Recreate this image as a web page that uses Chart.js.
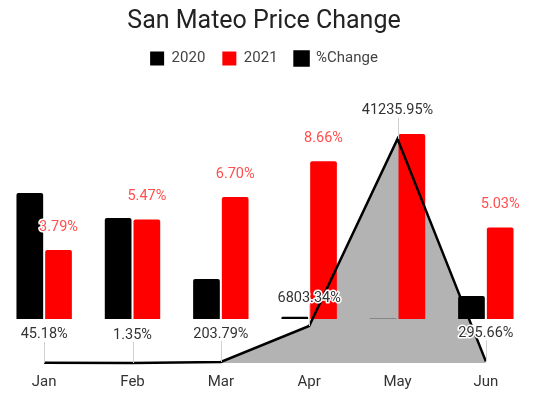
<!DOCTYPE html>
<html>
<head>
<meta charset="utf-8">
<script src="https://cdn.jsdelivr.net/npm/chart.js@4/dist/chart.umd.min.js"></script>
<style>
    body { margin: 0; background: #fff; }
    #wrap { width: 534px; height: 398px; }
</style>
</head>
<body>
<div id="wrap"><canvas id="chartPrice" width="534" height="398"></canvas></div>
<script>
let months = ["Jan", "Feb", "Mar", "Apr", "May", "Jun"];
let price2020 = [6.914, 5.545, 2.205, 0.125, 0.025, 1.271];
let price2021 = [3.79, 5.47, 6.70, 8.66, 10.16, 5.03];
let pctChange = [45.18, 1.35, 203.79, 6803.34, 41235.95, 295.66];
let hideLabel2021 = ["May"];

let labelFont = "14.5px Roboto";

// draws value labels (no datalabels plugin offline)
let valueLabels = {
    id: "valueLabels",
    afterDatasetsDraw: function (chart) {
        let ctx = chart.ctx;
        ctx.save();
        ctx.font = labelFont;
        ctx.textAlign = "center";
        ctx.textBaseline = "middle";
        ctx.lineJoin = "round";

        let metaLine = chart.getDatasetMeta(2);
        metaLine.data.forEach(function (pt, i) {
            ctx.strokeStyle = "#d0d0d0";
            ctx.lineWidth = 1;
            ctx.beginPath();
            ctx.moveTo(Math.round(pt.x) + 0.5, pt.y - 21);
            ctx.lineTo(Math.round(pt.x) + 0.5, pt.y);
            ctx.stroke();

            let txt = pctChange[i].toFixed(2) + "%";
            ctx.strokeStyle = "#fff";
            ctx.lineWidth = 3;
            ctx.strokeText(txt, pt.x, pt.y - 28);
            ctx.fillStyle = "#333";
            ctx.fillText(txt, pt.x, pt.y - 28);
        });

        let metaRed = chart.getDatasetMeta(1);
        metaRed.data.forEach(function (bar, i) {
            if (hideLabel2021.indexOf(months[i]) >= 0) return;
            let txt = price2021[i].toFixed(2) + "%";
            ctx.strokeStyle = "#fff";
            ctx.lineWidth = 3;
            ctx.strokeText(txt, bar.x, bar.y - 23);
            ctx.fillStyle = "#ff4f4f";
            ctx.fillText(txt, bar.x, bar.y - 23);
        });
        ctx.restore();
    }
};

let ctx = document.getElementById("chartPrice").getContext("2d");
new Chart(ctx, {
    type: "bar",
    data: {
        labels: months,
        datasets: [{
            label: "2020",
            data: price2020,
            backgroundColor: "#000",
            borderRadius: 2,
            borderSkipped: "bottom",
            yAxisID: "yBar",
            order: 1
        }, {
            label: "2021",
            data: price2021,
            backgroundColor: "#ff0000",
            borderRadius: 2,
            borderSkipped: "bottom",
            yAxisID: "yBar",
            order: 1
        }, {
            type: "line",
            label: "%Change",
            data: pctChange,
            borderColor: "#000",
            backgroundColor: "#000",
            borderWidth: 2.5,
            pointRadius: 0,
            tension: 0,
            fill: { target: "origin", above: "#b3b3b3" },
            clip: false,
            yAxisID: "yPct",
            order: 0
        }]
    },
    options: {
        responsive: false,
        animation: false,
        layout: { padding: { left: -2, right: 4, top: 0, bottom: 5 } },
        datasets: {
            bar: { categoryPercentage: 0.65, barPercentage: 0.93 }
        },
        scales: {
            x: {
                grid: { display: false },
                border: { display: false },
                ticks: { color: "#333", font: { family: "Roboto", size: 15 }, padding: 2 }
            },
            yBar: {
                display: false,
                min: -2.41,
                max: 13.34
            },
            yPct: {
                display: false,
                min: 0,
                max: 52800
            }
        },
        plugins: {
            filler: { drawTime: "beforeDatasetsDraw" },
            title: {
                display: true,
                text: "San Mateo Price Change",
                color: "#222",
                font: { family: "Roboto", size: 25, weight: "normal", lineHeight: 1 },
                padding: { top: 9, bottom: 0 }
            },
            legend: {
                labels: {
                    color: "#444",
                    font: { family: "Roboto", size: 15 },
                    boxWidth: 14,
                    boxHeight: 14,
                    padding: 17,
                    sort: function (a, b) { return a.datasetIndex - b.datasetIndex; }
                }
            },
            tooltip: { enabled: false }
        }
    },
    plugins: [valueLabels]
});
</script>
</body>
</html>
